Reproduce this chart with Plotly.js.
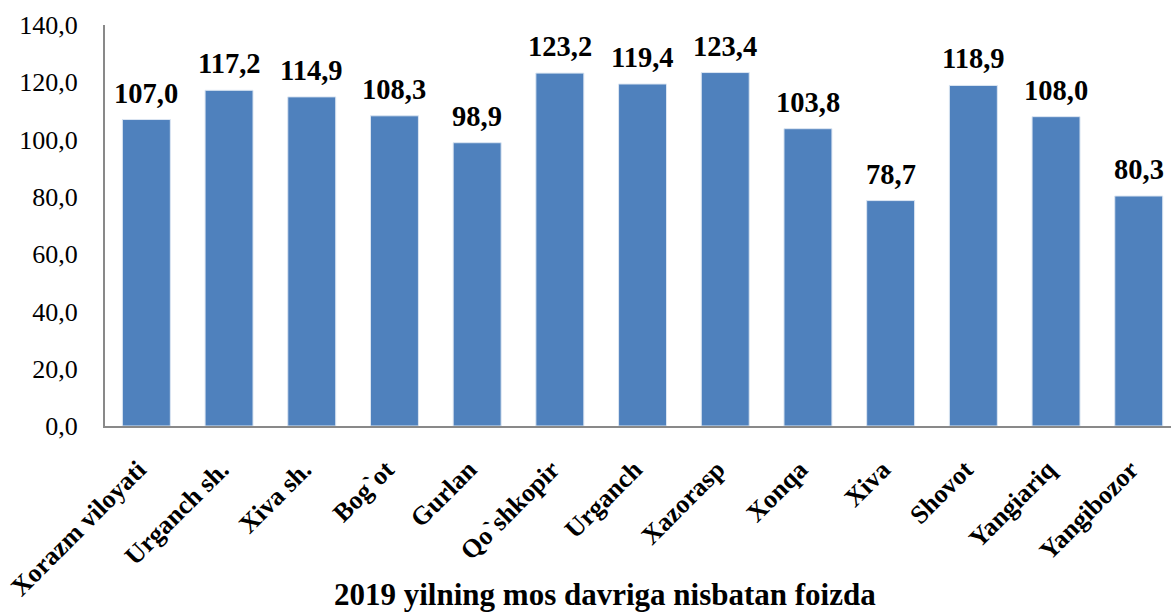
<!DOCTYPE html>
<html>
<head>
<meta charset="utf-8">
<script src="https://cdn.plot.ly/plotly-3.0.1.min.js"></script>
<style>html,body{margin:0;padding:0;background:#fff;}#chart{width:1171px;height:616px;}</style>
</head>
<body>
<div id="chart"></div>
<script>
const categories = ["Xorazm viloyati","Urganch sh.","Xiva sh.","Bog`ot","Gurlan","Qo`shkopir","Urganch","Xazorasp","Xonqa","Xiva","Shovot","Yangiariq","Yangibozor"];
const values = [107.0,117.2,114.9,108.3,98.9,123.2,119.4,123.4,103.8,78.7,118.9,108.0,80.3];
const yTicks = [0,20,40,60,80,100,120,140];
const chartTitle = '2019 yilning mos davriga nisbatan foizda';
const fmt = v => v.toFixed(1).replace('.', ',');
const FONT = 'Liberation Serif';

const trace = {
  type: 'bar',
  x: categories,
  y: values,
  marker: {color: '#4F81BD', line: {color: '#DCE6F2', width: 1}},
  hoverinfo: 'none'
};

const labelAnnotations = categories.map((c, i) => ({
  x: c, y: values[i], xref: 'x', yref: 'y',
  text: '<b>' + fmt(values[i]) + '</b>',
  showarrow: false, yanchor: 'bottom', yshift: 9,
  font: {family: FONT, size: 28.5, color: '#000'}
}));

const layout = {
  width: 1171, height: 616,
  margin: {l: 105, r: 0, t: 25, b: 190},
  paper_bgcolor: '#fff', plot_bgcolor: '#fff',
  bargap: 0.42,
  showlegend: false,
  font: {family: FONT, color: '#000'},
  xaxis: {
    range: [-0.5, 12.39],
    showline: true, linecolor: '#898989', linewidth: 2,
    ticks: '', tickangle: -45,
    tickfont: {family: FONT, size: 26, color: '#000', weight: 'bold'},
    ticklabelstandoff: 16,
    ticklabelshift: -8,
    automargin: false
  },
  yaxis: {
    range: [0, 140],
    tickvals: yTicks, ticktext: yTicks.map(fmt),
    showline: true, linecolor: '#898989', linewidth: 2,
    showgrid: false, zeroline: false, ticks: '',
    tickfont: {family: FONT, size: 26, color: '#000'},
    ticklabelstandoff: 20,
    automargin: false
  },
  annotations: labelAnnotations.concat([{
    xref: 'paper', yref: 'paper', x: 0.469, y: -0.47,
    xanchor: 'center', yanchor: 'bottom', showarrow: false,
    text: '<b>' + chartTitle + '</b>',
    font: {family: FONT, size: 31, color: '#000'}
  }])
};

Plotly.newPlot('chart', [trace], layout, {staticPlot: true});
</script>
</body>
</html>
